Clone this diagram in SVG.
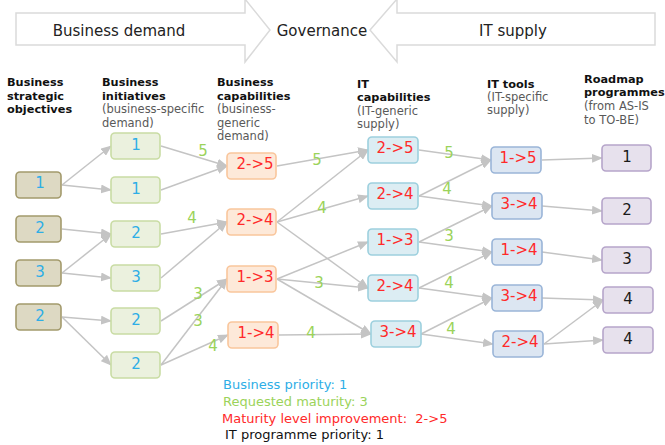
<svg xmlns="http://www.w3.org/2000/svg" width="665" height="445" viewBox="0 0 665 445">
<defs>
<style>
text{font-family:"DejaVu Sans",Verdana,sans-serif}
.bn{fill:none;stroke:#dadada;stroke-width:1.5}
.top{font-size:15px;fill:#222;text-anchor:middle}
.hb{font-size:11.3px;font-weight:bold;fill:#111}
.hn{font-size:11.5px;fill:#595959}
.b1{fill:#ddd9c3;stroke:#a39a6c;stroke-width:1.6}
.b2{fill:#ebf1de;stroke:#c9dca4;stroke-width:1.6}
.b3{fill:#fde9d9;stroke:#f9c69c;stroke-width:1.6}
.b4{fill:#dcedf3;stroke:#9dd0de;stroke-width:1.6}
.b5{fill:#dce6f2;stroke:#9ab5d8;stroke-width:1.6}
.b6{fill:#e7e1ed;stroke:#b6a5ca;stroke-width:1.6}
.lb{font-size:15px;fill:#2eaee6;text-anchor:middle}
.lr{font-size:15px;fill:#ff2a2a;text-anchor:middle}
.lk{font-size:15px;fill:#1a1a1a;text-anchor:middle}
.lg{font-size:15px;fill:#9bd35a;text-anchor:middle}
.e line{stroke:#c4c4c4;stroke-width:1.5;marker-end:url(#ah)}
.leg{font-size:13px}
</style>
<marker id="ah" markerUnits="userSpaceOnUse" markerWidth="11" markerHeight="9" refX="10" refY="4.5" orient="auto">
<path d="M0,0 L11,4.5 L0,9 Z" fill="#c4c4c4"/>
</marker>
</defs>
<rect width="665" height="445" fill="#ffffff"/>

<g id="banner">
<path class="bn" d="M16,13 H245 V-1 L270,30 L245,62 V45 H16 Z"/>
<path class="bn" d="M655,13 H397 V-1 L370,30 L397,62 V45 H655 Z"/>
<text class="top" x="119" y="36">Business demand</text>
<text class="top" x="322" y="36">Governance</text>
<text class="top" x="513" y="36">IT supply</text>
</g>

<g id="headers">
<text class="hb" x="7" y="86">Business</text>
<text class="hb" x="7" y="100">strategic</text>
<text class="hb" x="7" y="113">objectives</text>
<text class="hb" x="102" y="86">Business</text>
<text class="hb" x="102" y="100">initiatives</text>
<text class="hn" x="102" y="113">(business-specific</text>
<text class="hn" x="102" y="127">demand)</text>
<text class="hb" x="217" y="86">Business</text>
<text class="hb" x="217" y="100">capabilities</text>
<text class="hn" x="217" y="113">(business-</text>
<text class="hn" x="217" y="127">generic</text>
<text class="hn" x="217" y="140">demand)</text>
<text class="hb" x="357" y="88">IT</text>
<text class="hb" x="357" y="101">capabilities</text>
<text class="hn" x="357" y="115">(IT-generic</text>
<text class="hn" x="357" y="128">supply)</text>
<text class="hb" x="487" y="88">IT tools</text>
<text class="hn" x="487" y="101">(IT-specific</text>
<text class="hn" x="487" y="114">supply)</text>
<text class="hb" x="584" y="83">Roadmap</text>
<text class="hb" x="584" y="96">programmes</text>
<text class="hn" x="584" y="110">(from AS-IS</text>
<text class="hn" x="584" y="124">to TO-BE)</text>
</g>

<g id="connectors" class="e">
<line x1="62" y1="185" x2="111" y2="146"/>
<line x1="62" y1="185" x2="111" y2="190"/>
<line x1="62" y1="229" x2="111" y2="234"/>
<line x1="62" y1="273" x2="111" y2="234"/>
<line x1="62" y1="273" x2="111" y2="278"/>
<line x1="62" y1="317" x2="111" y2="321"/>
<line x1="62" y1="317" x2="111" y2="365"/>
<line x1="161" y1="146" x2="227" y2="166"/>
<line x1="161" y1="190" x2="227" y2="166"/>
<line x1="161" y1="234" x2="227" y2="222"/>
<line x1="161" y1="278" x2="227" y2="222"/>
<line x1="161" y1="321" x2="227" y2="279"/>
<line x1="161" y1="365" x2="227" y2="279"/>
<line x1="161" y1="365" x2="228" y2="335"/>
<line x1="277" y1="166" x2="368" y2="150"/>
<line x1="277" y1="222" x2="368" y2="150"/>
<line x1="277" y1="222" x2="368" y2="196"/>
<line x1="277" y1="222" x2="368" y2="288"/>
<line x1="277" y1="279" x2="368" y2="242"/>
<line x1="277" y1="279" x2="368" y2="288"/>
<line x1="277" y1="279" x2="371" y2="334"/>
<line x1="279" y1="335" x2="371" y2="334"/>
<line x1="419" y1="150" x2="491" y2="160"/>
<line x1="419" y1="196" x2="491" y2="160"/>
<line x1="419" y1="196" x2="492" y2="206"/>
<line x1="419" y1="242" x2="492" y2="206"/>
<line x1="419" y1="242" x2="492" y2="252"/>
<line x1="419" y1="288" x2="492" y2="252"/>
<line x1="419" y1="288" x2="492" y2="298"/>
<line x1="421" y1="334" x2="492" y2="298"/>
<line x1="421" y1="334" x2="493" y2="344"/>
<line x1="542" y1="160" x2="602" y2="158"/>
<line x1="542" y1="206" x2="602" y2="211"/>
<line x1="542" y1="252" x2="602" y2="260"/>
<line x1="542" y1="298" x2="603" y2="300"/>
<line x1="544" y1="344" x2="603" y2="300"/>
<line x1="544" y1="344" x2="603" y2="340"/>
</g>

<g id="edge-labels">
<text class="lg" x="203" y="156">5</text>
<text class="lg" x="192" y="223">4</text>
<text class="lg" x="198" y="299">3</text>
<text class="lg" x="198" y="326">3</text>
<text class="lg" x="213" y="351">4</text>
<text class="lg" x="317" y="165">5</text>
<text class="lg" x="322" y="213">4</text>
<text class="lg" x="319" y="288">3</text>
<text class="lg" x="311" y="338">4</text>
<text class="lg" x="449" y="158">5</text>
<text class="lg" x="447" y="194">4</text>
<text class="lg" x="449" y="241">3</text>
<text class="lg" x="449" y="288">4</text>
<text class="lg" x="451" y="334">4</text>
</g>

<g id="obj1"><rect class="b1" x="16" y="172" width="45" height="26" rx="4"/><text class="lb" x="40" y="188">1</text></g>
<g id="obj2"><rect class="b1" x="16" y="216" width="45" height="26" rx="4"/><text class="lb" x="40" y="233">2</text></g>
<g id="obj3"><rect class="b1" x="16" y="260" width="45" height="26" rx="4"/><text class="lb" x="40" y="277">3</text></g>
<g id="obj4"><rect class="b1" x="16" y="304" width="45" height="26" rx="4"/><text class="lb" x="40" y="321">2</text></g>

<g id="ini1"><rect class="b2" x="111" y="133" width="49" height="26" rx="4"/><text class="lb" x="136" y="150">1</text></g>
<g id="ini2"><rect class="b2" x="111" y="177" width="49" height="26" rx="4"/><text class="lb" x="136" y="194">1</text></g>
<g id="ini3"><rect class="b2" x="111" y="221" width="49" height="26" rx="4"/><text class="lb" x="136" y="238">2</text></g>
<g id="ini4"><rect class="b2" x="111" y="265" width="49" height="26" rx="4"/><text class="lb" x="136" y="282">3</text></g>
<g id="ini5"><rect class="b2" x="111" y="308" width="49" height="26" rx="4"/><text class="lb" x="136" y="325">2</text></g>
<g id="ini6"><rect class="b2" x="111" y="352" width="49" height="26" rx="4"/><text class="lb" x="136" y="369">2</text></g>

<g id="bcap1"><rect class="b3" x="227" y="153" width="49" height="26" rx="4"/><text class="lr" x="255" y="169">2-&gt;5</text></g>
<g id="bcap2"><rect class="b3" x="227" y="209" width="49" height="26" rx="4"/><text class="lr" x="255" y="225">2-&gt;4</text></g>
<g id="bcap3"><rect class="b3" x="227" y="266" width="49" height="26" rx="4"/><text class="lr" x="255" y="282">1-&gt;3</text></g>
<g id="bcap4"><rect class="b3" x="228" y="322" width="50" height="26" rx="4"/><text class="lr" x="256" y="338">1-&gt;4</text></g>

<g id="itcap1"><rect class="b4" x="368" y="137" width="50" height="26" rx="4"/><text class="lr" x="395" y="153">2-&gt;5</text></g>
<g id="itcap2"><rect class="b4" x="368" y="183" width="50" height="26" rx="4"/><text class="lr" x="395" y="199">2-&gt;4</text></g>
<g id="itcap3"><rect class="b4" x="368" y="229" width="50" height="26" rx="4"/><text class="lr" x="395" y="245">1-&gt;3</text></g>
<g id="itcap4"><rect class="b4" x="368" y="275" width="50" height="26" rx="4"/><text class="lr" x="395" y="291">2-&gt;4</text></g>
<g id="itcap5"><rect class="b4" x="371" y="321" width="50" height="26" rx="4"/><text class="lr" x="398" y="337">3-&gt;4</text></g>

<g id="tool1"><rect class="b5" x="491" y="147" width="50" height="26" rx="4"/><text class="lr" x="518" y="163">1-&gt;5</text></g>
<g id="tool2"><rect class="b5" x="492" y="193" width="50" height="26" rx="4"/><text class="lr" x="519" y="209">3-&gt;4</text></g>
<g id="tool3"><rect class="b5" x="492" y="239" width="50" height="26" rx="4"/><text class="lr" x="519" y="255">1-&gt;4</text></g>
<g id="tool4"><rect class="b5" x="492" y="285" width="50" height="26" rx="4"/><text class="lr" x="519" y="301">3-&gt;4</text></g>
<g id="tool5"><rect class="b5" x="493" y="331" width="50" height="26" rx="4"/><text class="lr" x="520" y="347">2-&gt;4</text></g>

<g id="rm1"><rect class="b6" x="602" y="145" width="49" height="26" rx="4"/><text class="lk" x="627" y="162">1</text></g>
<g id="rm2"><rect class="b6" x="602" y="198" width="49" height="26" rx="4"/><text class="lk" x="627" y="215">2</text></g>
<g id="rm3"><rect class="b6" x="602" y="247" width="49" height="26" rx="4"/><text class="lk" x="627" y="264">3</text></g>
<g id="rm4"><rect class="b6" x="603" y="287" width="50" height="26" rx="4"/><text class="lk" x="628" y="304">4</text></g>
<g id="rm5"><rect class="b6" x="603" y="327" width="50" height="26" rx="4"/><text class="lk" x="628" y="344">4</text></g>

<g id="legend">
<text class="leg" x="223" y="389" fill="#2eaee6">Business priority: 1</text>
<text class="leg" x="223" y="406" fill="#9bd35a">Requested maturity: 3</text>
<text class="leg" x="222" y="423" fill="#ff2a2a">Maturity level improvement:&#160; 2-&gt;5</text>
<text class="leg" x="225" y="439" fill="#111111">IT programme priority: 1</text>
</g>
</svg>
